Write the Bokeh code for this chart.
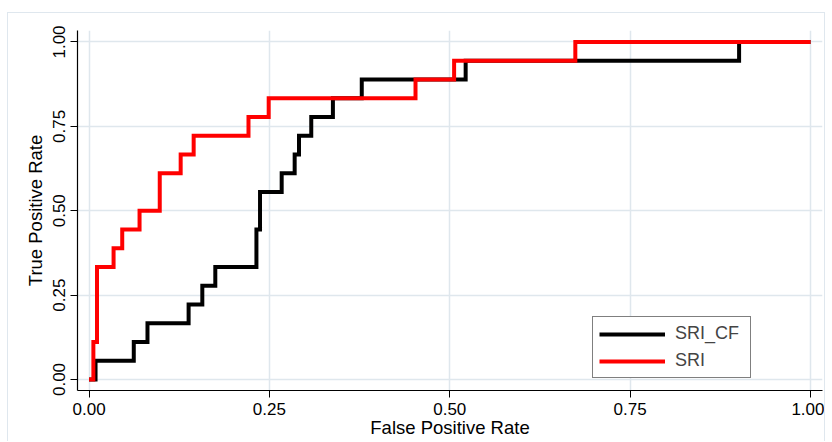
import math
from bokeh.plotting import figure
from bokeh.models import Range1d, FixedTicker, Legend, LegendItem
from bokeh.embed import file_html
from bokeh.resources import INLINE

# ROC vertices (step points: horizontal to x, then vertical up to y)
sri_cf_fpr = [0.0, 0.009, 0.062, 0.081, 0.138, 0.157, 0.175, 0.232, 0.237, 0.267,
              0.285, 0.291, 0.308, 0.338, 0.378, 0.522, 0.901, 1.0]
sri_cf_tpr = [0.0, 0.0556, 0.1111, 0.1667, 0.2222, 0.2778, 0.3333, 0.4444, 0.5556, 0.6111,
              0.6667, 0.7222, 0.7778, 0.8333, 0.8889, 0.9444, 1.0, 1.0]

sri_fpr = [0.0, 0.006, 0.011, 0.034, 0.046, 0.070, 0.098, 0.127, 0.145, 0.221,
           0.249, 0.4525, 0.506, 0.674, 1.0]
sri_tpr = [0.0, 0.1111, 0.3333, 0.3889, 0.4444, 0.5, 0.6111, 0.6667, 0.7222, 0.7778,
           0.8333, 0.8889, 0.9444, 1.0, 1.0]

series_names = ["SRI_CF", "SRI"]
tick_values = [0.0, 0.25, 0.5, 0.75, 1.0]
tick_labels = ["0.00", "0.25", "0.50", "0.75", "1.00"]
x_title = "False Positive Rate"
y_title = "True Positive Rate"

FONT = "Liberation Sans"
GRID = "#dfe7ed"
FRAME = "#dfe7ee"

p = figure(width=818, height=429, output_backend="svg", toolbar_location=None,
           x_range=Range1d(-0.016, 1.0166), y_range=Range1d(-0.0326, 1.034),
           min_border_left=69, min_border_right=4, min_border_top=17, min_border_bottom=52)
p.margin = (12, 0, 0, 7)
p.styles = {"border-top": f"1px solid {FRAME}", "border-left": f"1px solid {FRAME}",
            "border-right": f"1px solid {FRAME}"}
p.outline_line_color = None
p.background_fill_color = "white"
p.border_fill_color = "white"

for ax in (p.xaxis[0], p.yaxis[0]):
    ax.ticker = FixedTicker(ticks=tick_values)
    ax.major_label_overrides = {v: s for v, s in zip(tick_values, tick_labels)}
    ax.minor_tick_line_color = None
    ax.major_tick_in = 0
    ax.major_tick_out = 7
    ax.major_tick_line_color = "black"
    ax.major_tick_line_width = 1
    ax.axis_line_color = "black"
    ax.axis_line_width = 1.2
    ax.major_label_text_font = FONT
    ax.major_label_text_font_size = "17px"
    ax.major_label_text_color = "black"
    ax.major_label_standoff = 5
    ax.axis_label_text_font = FONT
    ax.axis_label_text_font_size = "18.5px"
    ax.axis_label_text_font_style = "normal"
    ax.axis_label_text_color = "black"
p.xaxis[0].axis_label = x_title
p.yaxis[0].axis_label = y_title
p.xaxis[0].axis_label_standoff = -1
p.yaxis[0].axis_label_standoff = 5
p.yaxis[0].major_label_orientation = "parallel"

p.xgrid.ticker = FixedTicker(ticks=tick_values)
p.ygrid.ticker = FixedTicker(ticks=tick_values)
p.grid.grid_line_color = GRID
p.grid.grid_line_width = 1.5

r_cf = p.step(sri_cf_fpr, sri_cf_tpr, mode="after", line_color="black", line_width=4,
              line_join="miter")
r_sri = p.step(sri_fpr, sri_tpr, mode="after", line_color="#ff0000", line_width=4,
               line_join="miter")

legend = Legend(items=[LegendItem(label=series_names[0], renderers=[r_cf]),
                       LegendItem(label=series_names[1], renderers=[r_sri])],
                location=(515, 12))
legend.border_line_color = "black"
legend.border_line_width = 1.3
legend.background_fill_color = "white"
legend.background_fill_alpha = 1
legend.label_text_font = FONT
legend.label_text_font_size = "18px"
legend.glyph_width = 66
legend.glyph_height = 20
legend.label_height = 20
legend.label_width = 69
legend.label_standoff = 10
legend.spacing = 6
legend.padding = 6
legend.margin = 0
p.add_layout(legend)

open("out.html", "w").write(file_html(p, INLINE))
